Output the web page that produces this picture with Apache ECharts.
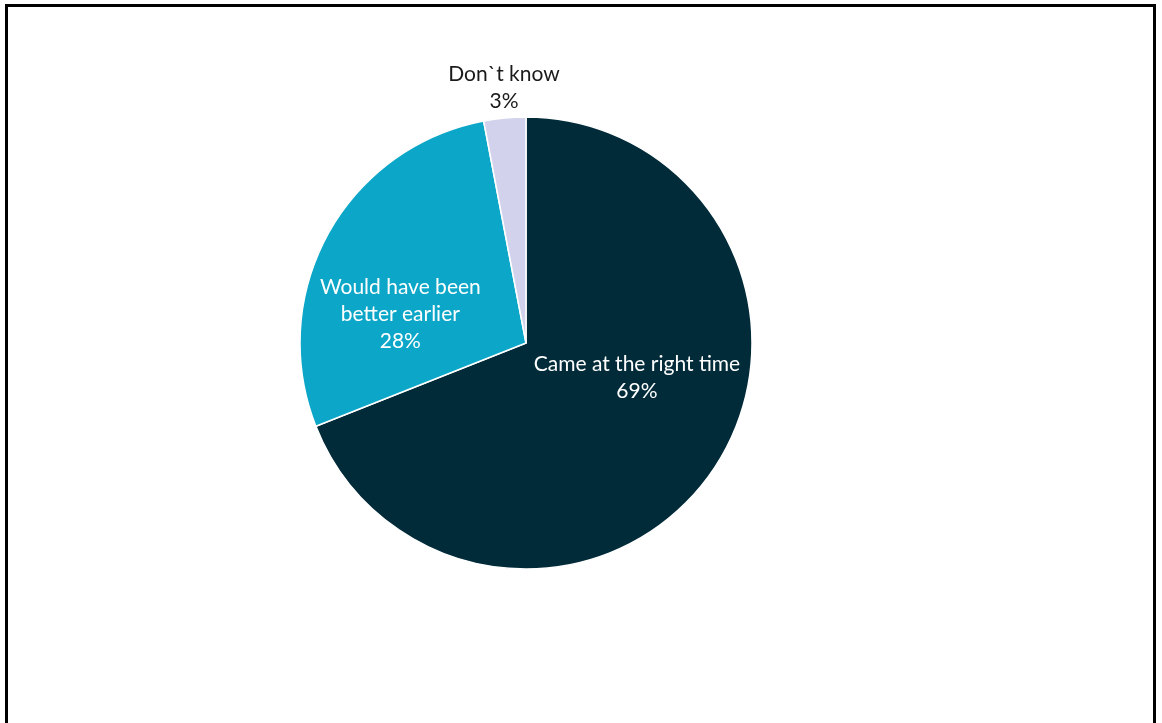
<!DOCTYPE html>
<html>
<head>
<meta charset="utf-8">
<script src="https://cdn.jsdelivr.net/npm/echarts@6/dist/echarts.min.js"></script>
<style>
  html, body { margin: 0; padding: 0; background: #ffffff; }
  #frame { position: absolute; left: 5px; top: 4px; width: 1151px; height: 740px; border: 3px solid #000; box-sizing: border-box; }
  #chart { position: absolute; left: 0; top: 0; width: 1162px; height: 723px; }
</style>
</head>
<body>
<div id="frame"></div>
<div id="chart"></div>
<script>
// Responses: was the information received at the right time?
const categories = ['Came at the right time', 'Would have been\nbetter earlier', 'Don`t know'];
const shares = [69, 28, 3];
const colors = ['#022B3A', '#0CA7C8', '#D2D2EC'];

// small nudges so the labels sit where the text reads best
const labelShift = [[15, -30], [-24, 27], [0, -22]];

const chart = echarts.init(document.getElementById('chart'), null, { renderer: 'canvas' });

chart.setOption({
  animation: false,
  series: [{
    type: 'pie',
    center: [526, 343],
    radius: 226,
    startAngle: 90,
    clockwise: true,
    avoidLabelOverlap: false,
    itemStyle: { borderColor: '#ffffff', borderWidth: 1.5 },
    label: {
      show: true,
      position: 'inside',
      formatter: '{b}\n{d}%',
      fontFamily: 'Lato',
      fontSize: 21,
      lineHeight: 27,
      color: '#ffffff',
      align: 'center'
    },
    labelLine: { show: false },
    labelLayout: function (p) {
      const s = labelShift[p.dataIndex];
      return { dx: s[0], dy: s[1], align: 'center' };
    },
    data: categories.map((name, i) => {
      const item = { name: name, value: shares[i], itemStyle: { color: colors[i] } };
      if (i === 2) {
        item.label = {
          position: 'outside',
          color: '#1a1a1a',
          distanceToLabelLine: 0
        };
        item.labelLine = { show: false, length: 8, length2: 0 };
      }
      return item;
    })
  }]
});
</script>
</body>
</html>
